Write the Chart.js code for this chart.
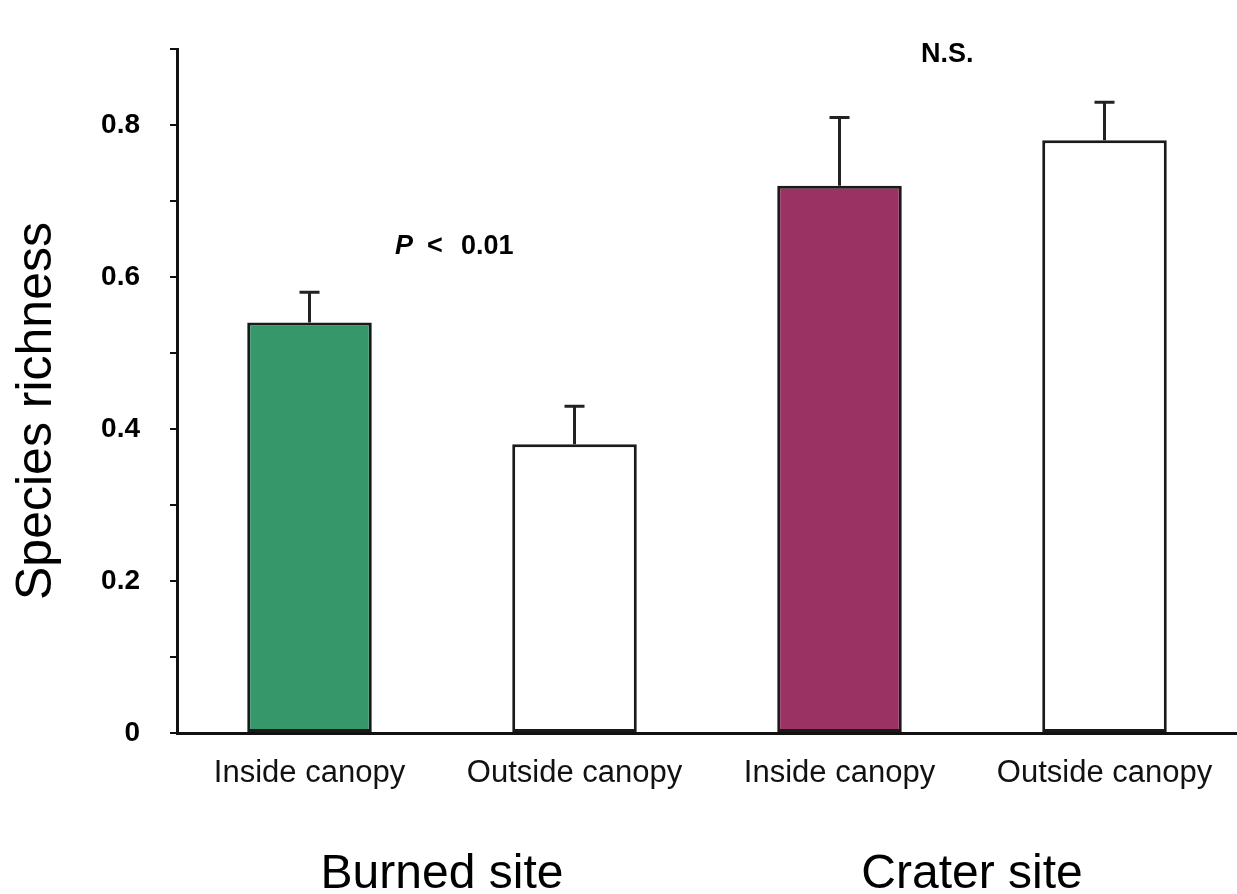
<!DOCTYPE html>
<html>
<head>
<meta charset="utf-8">
<script src="https://cdn.jsdelivr.net/npm/chart.js@4/dist/chart.umd.min.js"></script>
<style>
  html, body { margin: 0; padding: 0; background: #fff; }
</style>
</head>
<body>
<canvas id="c" width="1237" height="894"></canvas>
<script>
// data
var categories = ['Inside canopy', 'Outside canopy', 'Inside canopy', 'Outside canopy'];
var groups = ['Burned site', 'Crater site'];
var richness = [0.54, 0.38, 0.72, 0.78];
var stdErr = [0.04, 0.05, 0.09, 0.05];
var barColors = ['#36986a', '#ffffff', '#9a3263', '#ffffff'];

// upper error bars, plus the extra texts
var extras = {
  id: 'extras',
  afterDatasetsDraw: function(chart) {
    var ctx = chart.ctx;
    var y = chart.scales.y;
    var x = chart.scales.x;
    var meta = chart.getDatasetMeta(0);

    ctx.save();
    ctx.strokeStyle = '#222';
    ctx.lineWidth = 3;
    meta.data.forEach(function(bar, i) {
      var top = y.getPixelForValue(richness[i] + stdErr[i]);
      ctx.beginPath();
      ctx.moveTo(bar.x, bar.y);
      ctx.lineTo(bar.x, top);
      ctx.moveTo(bar.x - 10, top);
      ctx.lineTo(bar.x + 10, top);
      ctx.stroke();
    });

    ctx.fillStyle = '#000';
    ctx.textBaseline = 'middle';

    // significance notes
    var py = y.getPixelForValue(0.64);
    ctx.textAlign = 'left';
    ctx.font = 'italic bold 27px "Liberation Sans", Arial, sans-serif';
    ctx.fillText('P', 395, py);
    ctx.font = 'bold 27px "Liberation Sans", Arial, sans-serif';
    ctx.fillText('<', 427, py);
    ctx.fillText('0.01', 461, py);
    ctx.fillText('N.S.', 921, y.getPixelForValue(0.893));

    // group labels under the categories
    ctx.font = '48px "Liberation Sans", Arial, sans-serif';
    ctx.textAlign = 'center';
    ctx.textBaseline = 'alphabetic';
    for (var g = 0; g < groups.length; g++) {
      var cx = (x.getPixelForValue(g * 2) + x.getPixelForValue(g * 2 + 1)) / 2;
      ctx.fillText(groups[g], cx, 888);
    }

    // y title
    ctx.font = '50px "Liberation Sans", Arial, sans-serif';
    ctx.translate(51, 411);
    ctx.rotate(-Math.PI / 2);
    ctx.fillText('Species richness', 0, 0);
    ctx.restore();
  }
};

new Chart(document.getElementById('c'), {
  type: 'bar',
  data: {
    labels: categories,
    datasets: [{
      data: richness,
      backgroundColor: barColors,
      borderColor: '#1a1a1a',
      borderWidth: 3,
      borderSkipped: false,
      barPercentage: 0.47,
      categoryPercentage: 1
    }]
  },
  options: {
    responsive: false,
    animation: false,
    layout: { padding: { top: 49, right: 0, left: 0, bottom: 0 } },
    plugins: {
      legend: { display: false },
      tooltip: { enabled: false }
    },
    scales: {
      x: {
        grid: { display: false },
        border: { display: true, color: '#111', width: 3 },
        ticks: {
          color: '#111',
          padding: 14,
          font: { family: '"Liberation Sans", Arial, sans-serif', size: 31 }
        },
        afterFit: function(s) { s.height = 161; }
      },
      y: {
        min: 0,
        max: 0.9,
        grid: { drawOnChartArea: false, tickLength: 7, color: '#111', lineWidth: 2 },
        border: { display: true, color: '#111', width: 3 },
        ticks: {
          stepSize: 0.1,
          padding: 30,
          color: '#000',
          font: { family: '"Liberation Sans", Arial, sans-serif', size: 28, weight: 'bold' },
          callback: function(v) {
            var k = Math.round(v * 10);
            if (k % 2 !== 0) return '';
            return k === 0 ? '0' : (k / 10).toFixed(1);
          }
        },
        afterFit: function(s) { s.width = 177; }
      }
    }
  },
  plugins: [extras]
});
</script>
</body>
</html>
